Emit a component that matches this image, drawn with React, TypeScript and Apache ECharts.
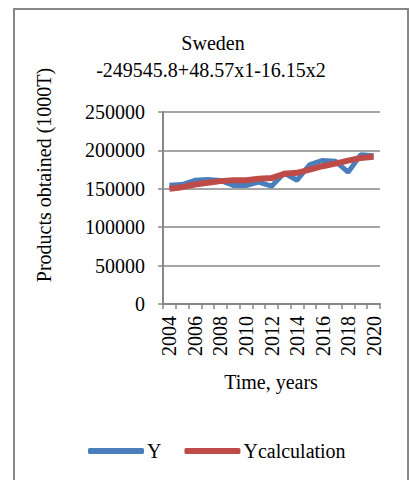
import React, { useEffect, useRef } from "react";
import * as echarts from "echarts";

const years = ["2004","2005","2006","2007","2008","2009","2010","2011","2012","2013","2014","2015","2016","2017","2018","2019","2020"];
const yActual = [154500,155500,161000,162000,160800,154300,154300,158600,153400,170500,161200,181600,187000,185900,171600,194500,193200];
const yCalc = [150000,152100,155600,157800,160000,161200,161200,163000,164000,169500,170800,175000,179400,182800,186700,190200,191600];
const yTicks = [0, 50000, 100000, 150000, 200000, 250000];
const titleText = "Sweden";
const formulaText = "-249545.8+48.57x1-16.15x2";
const yTitle = "Products obtained (1000T)";
const xTitle = "Time, years";

const FONT = "'Liberation Serif', 'Times New Roman', serif";
const GRAY = "#878787";

export default function App() {
  const ref = useRef<HTMLDivElement>(null);
  useEffect(() => {
    if (!ref.current) return;
    const chart = echarts.init(ref.current, null, { renderer: "svg" });
    chart.setOption({
      animation: false,
      backgroundColor: "#ffffff",
      textStyle: { fontFamily: FONT, color: "#000" },
      grid: { left: 163, right: 29, top: 112, bottom: 176, containLabel: false },
      xAxis: {
        type: "category",
        data: years,
        boundaryGap: true,
        axisLine: { lineStyle: { color: GRAY, width: 2 } },
        axisTick: { show: true, interval: 0, length: 5, alignWithLabel: false, lineStyle: { color: GRAY, width: 1.5 } },
        axisLabel: { interval: 1, rotate: 90, margin: 12, fontSize: 20, fontFamily: FONT, color: "#000" },
        splitLine: { show: false },
      },
      yAxis: {
        type: "value",
        min: yTicks[0],
        max: yTicks[yTicks.length - 1],
        interval: 50000,
        axisLine: { show: true, lineStyle: { color: GRAY, width: 2 } },
        axisTick: { show: true, length: 5, lineStyle: { color: GRAY, width: 1.5 } },
        axisLabel: { margin: 18, fontSize: 20, fontFamily: FONT, color: "#000", formatter: (v: number) => String(v) },
        splitLine: { show: true, lineStyle: { color: GRAY, width: 1.5 } },
      },
      legend: {
        left: 83,
        top: 436,
        itemWidth: 56,
        itemHeight: 6,
        itemGap: 23,
        icon: "roundRect",
        textStyle: { fontSize: 20, fontFamily: FONT, color: "#000", padding: [0, 0, 0, -2] },
        data: ["Y", "Ycalculation"],
      },
      series: [
        {
          name: "Y",
          type: "line",
          data: yActual,
          symbol: "none",
          itemStyle: { color: "#4A7EBB" },
          lineStyle: { color: "#4A7EBB", width: 5 },
        },
        {
          name: "Ycalculation",
          type: "line",
          data: yCalc,
          symbol: "none",
          itemStyle: { color: "#BE4B48" },
          lineStyle: { color: "#BE4B48", width: 6 },
        },
      ],
      graphic: [
        {
          type: "rect",
          shape: { x: 14, y: 9, width: 394, height: 480 },
          style: { fill: "none", stroke: GRAY, lineWidth: 2 },
          silent: true,
        },
        {
          type: "text",
          x: 213,
          y: 43,
          style: { text: titleText, fontSize: 20, fontFamily: FONT, fill: "#000", align: "center", verticalAlign: "middle" },
        },
        {
          type: "text",
          x: 211,
          y: 70,
          style: { text: formulaText, fontSize: 20, fontFamily: FONT, fill: "#000", align: "center", verticalAlign: "middle" },
        },
        {
          type: "text",
          x: 44,
          y: 175,
          rotation: Math.PI / 2,
          style: { text: yTitle, fontSize: 20, fontFamily: FONT, fill: "#000", align: "center", verticalAlign: "middle" },
        },
        {
          type: "text",
          x: 271,
          y: 382,
          style: { text: xTitle, fontSize: 20, fontFamily: FONT, fill: "#000", align: "center", verticalAlign: "middle" },
        },
      ],
    });
    return () => chart.dispose();
  }, []);
  return (
    <div
      ref={ref}
      style={{ position: "fixed", left: 0, top: 0, width: 409, height: 480, background: "#fff" }}
    />
  );
}
